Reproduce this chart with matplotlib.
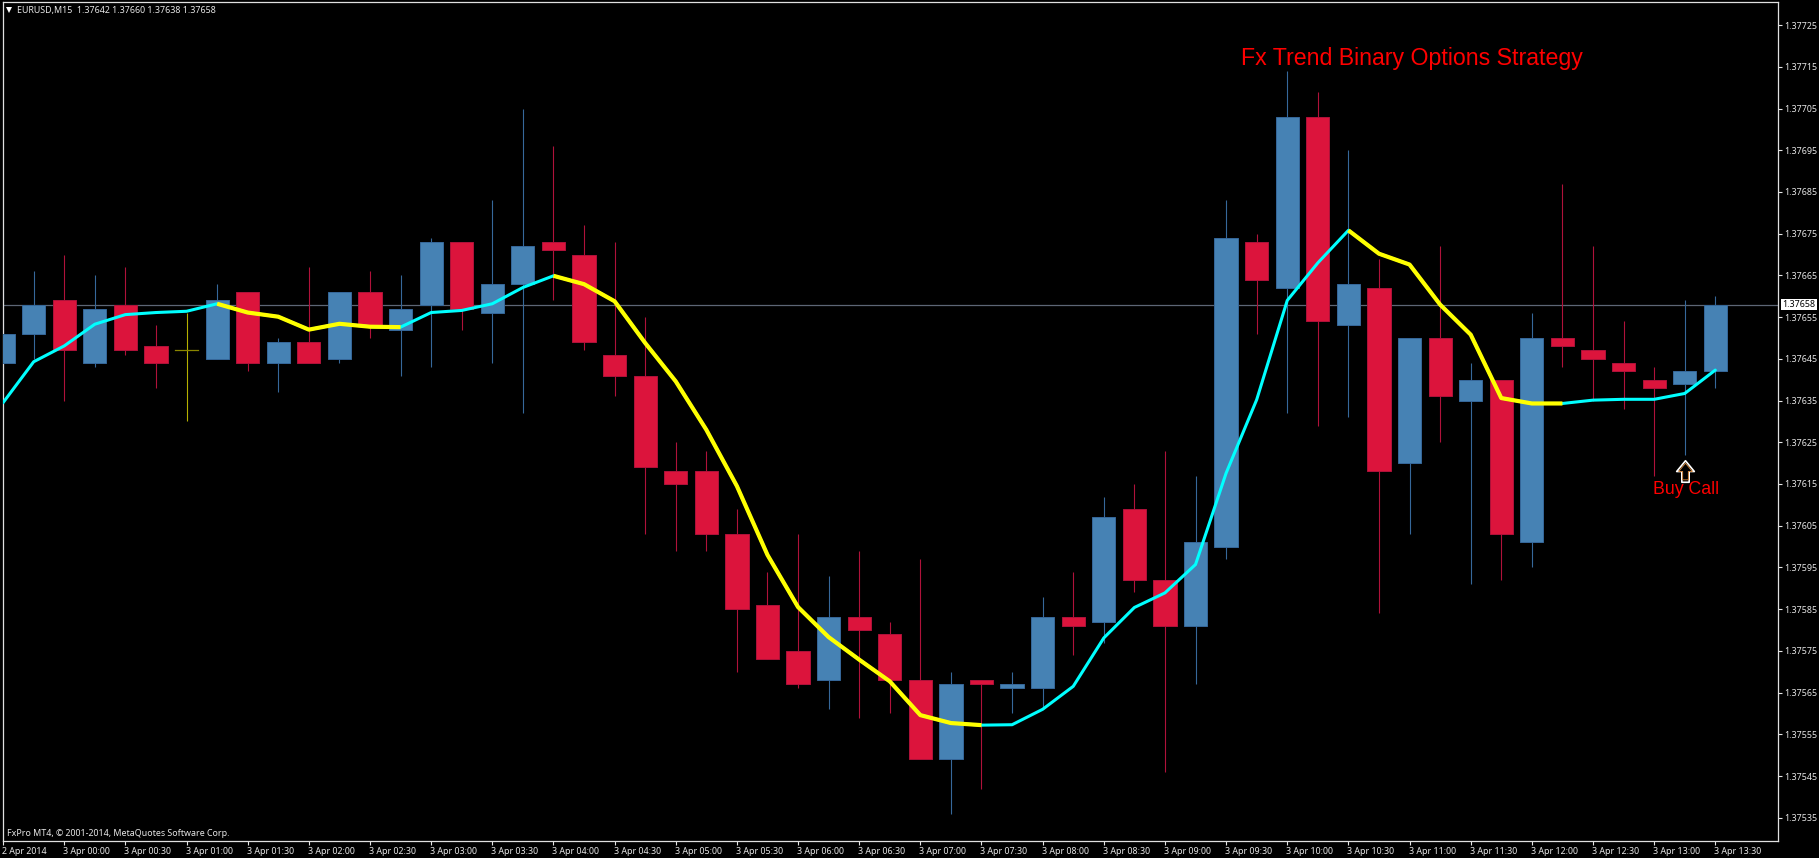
import matplotlib
matplotlib.use('Agg')
import matplotlib.pyplot as plt
from matplotlib.path import Path
from matplotlib.collections import LineCollection
from matplotlib.transforms import ScaledTranslation

# EURUSD M15 candles, 3 Apr 2014
opens = [1.37644, 1.37651, 1.37659, 1.37644, 1.37658, 1.37648, 1.37647, 1.37645, 1.37661, 1.37644,
         1.37649, 1.37645, 1.37661, 1.37652, 1.37658, 1.37673, 1.37656, 1.37663, 1.37673, 1.37670,
         1.37646, 1.37641, 1.37618, 1.37618, 1.37603, 1.37586, 1.37575, 1.37568, 1.37583, 1.37579,
         1.37568, 1.37549, 1.37568, 1.37566, 1.37566, 1.37583, 1.37582, 1.37609, 1.37592, 1.37581,
         1.37600, 1.37673, 1.37662, 1.37703, 1.37653, 1.37662, 1.37620, 1.37650, 1.37635, 1.37640,
         1.37601, 1.37650, 1.37647, 1.37644, 1.37640, 1.37639, 1.37642]
highs = [1.37664, 1.37666, 1.37670, 1.37665, 1.37667, 1.37653, 1.37656, 1.37663, 1.37661, 1.37650,
         1.37667, 1.37661, 1.37666, 1.37665, 1.37674, 1.37673, 1.37683, 1.37705, 1.37696, 1.37677,
         1.37673, 1.37655, 1.37625, 1.37623, 1.37609, 1.37594, 1.37603, 1.37593, 1.37599, 1.37582,
         1.37597, 1.37570, 1.37568, 1.37570, 1.37588, 1.37594, 1.37612, 1.37615, 1.37623, 1.37617,
         1.37683, 1.37675, 1.37714, 1.37709, 1.37695, 1.37669, 1.37650, 1.37672, 1.37644, 1.37640,
         1.37656, 1.37687, 1.37672, 1.37654, 1.37643, 1.37659, 1.37660]
lows = [1.37640, 1.37645, 1.37635, 1.37643, 1.37646, 1.37638, 1.37630, 1.37645, 1.37642, 1.37637,
        1.37644, 1.37644, 1.37650, 1.37641, 1.37643, 1.37652, 1.37644, 1.37632, 1.37659, 1.37647,
        1.37636, 1.37603, 1.37599, 1.37599, 1.37570, 1.37573, 1.37566, 1.37561, 1.37559, 1.37560,
        1.37549, 1.37536, 1.37542, 1.37560, 1.37561, 1.37574, 1.37577, 1.37589, 1.37546, 1.37567,
        1.37597, 1.37651, 1.37632, 1.37629, 1.37631, 1.37584, 1.37603, 1.37625, 1.37591, 1.37592,
        1.37595, 1.37643, 1.37635, 1.37633, 1.37617, 1.37622, 1.37638]
closes = [1.37651, 1.37658, 1.37647, 1.37657, 1.37647, 1.37644, 1.37647, 1.37659, 1.37644, 1.37649,
          1.37644, 1.37661, 1.37653, 1.37657, 1.37673, 1.37657, 1.37663, 1.37672, 1.37671, 1.37649,
          1.37641, 1.37619, 1.37615, 1.37603, 1.37585, 1.37573, 1.37567, 1.37583, 1.37580, 1.37568,
          1.37549, 1.37567, 1.37567, 1.37567, 1.37583, 1.37581, 1.37607, 1.37592, 1.37581, 1.37601,
          1.37674, 1.37664, 1.37703, 1.37654, 1.37663, 1.37618, 1.37650, 1.37636, 1.37640, 1.37603,
          1.37650, 1.37648, 1.37645, 1.37642, 1.37638, 1.37642, 1.37658]

# trend line, one value per candle
trend = [1.376345, 1.376443, 1.376481, 1.376533, 1.376556, 1.376561, 1.376564, 1.376582, 1.376561, 1.376551,
         1.376520, 1.376534, 1.376527, 1.376526, 1.376561, 1.376566, 1.376582, 1.376621, 1.376649, 1.376629,
         1.376588, 1.376488, 1.376396, 1.376280, 1.376145, 1.375980, 1.375855, 1.375783, 1.375729, 1.375677,
         1.375596, 1.375577, 1.375572, 1.375573, 1.375610, 1.375665, 1.375781, 1.375854, 1.375889, 1.375957,
         1.376176, 1.376352, 1.376590, 1.376680, 1.376758, 1.376702, 1.376676, 1.376580, 1.376508, 1.376356,
         1.376343, 1.376343, 1.376351, 1.376353, 1.376353, 1.376367, 1.376423]
# stretches of the line drawn thick yellow (falling), the rest is cyan
falling = [(7, 13), (18, 32), (44, 51)]

last_price = 1.37658
y_ticks = [1.37535 + 0.0001 * i for i in range(20)]
x_labels = ['2 Apr 2014', '3 Apr 00:00', '3 Apr 00:30', '3 Apr 01:00', '3 Apr 01:30', '3 Apr 02:00',
            '3 Apr 02:30', '3 Apr 03:00', '3 Apr 03:30', '3 Apr 04:00', '3 Apr 04:30', '3 Apr 05:00',
            '3 Apr 05:30', '3 Apr 06:00', '3 Apr 06:30', '3 Apr 07:00', '3 Apr 07:30', '3 Apr 08:00',
            '3 Apr 08:30', '3 Apr 09:00', '3 Apr 09:30', '3 Apr 10:00', '3 Apr 10:30', '3 Apr 11:00',
            '3 Apr 11:30', '3 Apr 12:00', '3 Apr 12:30', '3 Apr 13:00', '3 Apr 13:30']
x_ticks = [i * 2 for i in range(len(x_labels))]

W, H = 1819, 858
BLUE, RED = '#4682B4', '#DC143C'
BLUE_EDGE, RED_EDGE = '#36689a', '#b0123a'
GREY = '#e6e6e6'
FONT = 'Noto Sans'
SMALL = 6.4

fig = plt.figure(figsize=(W / 100, H / 100), dpi=100, facecolor='black')
left, right, top, bottom = 2.7, 1778.3, 2.3, 841.0
ax = fig.add_axes([left / W, 1 - bottom / H, (right - left) / W, (bottom - top) / H], facecolor='black')

# px per candle and per price unit
bar_px = 30.575
price_px = 4.172e5
ax.set_xlim((left - 3.1) / bar_px, (right - 3.1) / bar_px)
ax.set_ylim(last_price - (bottom - 304.6) / price_px, last_price + (304.6 - top) / price_px)

ax.axhline(last_price, color='#5d6675', lw=0.9, zorder=1)

for i in range(len(opens)):
    o, h, l, c = opens[i], highs[i], lows[i], closes[i]
    if o == c:
        ax.plot([i, i], [l, h], color='#b5b000', lw=0.8, zorder=2, solid_capstyle='butt')
        ax.plot([i - 0.38, i + 0.38], [o, o], color='#8a8600', lw=0.9, zorder=2)
        continue
    face, edge = (BLUE, BLUE_EDGE) if c > o else (RED, RED_EDGE)
    ax.plot([i, i], [l, h], color=edge, lw=0.8, zorder=2, solid_capstyle='butt')
    ax.bar(i, abs(c - o), bottom=min(o, c), width=0.76, color=face, edgecolor=edge, linewidth=0.7, zorder=3)

xs = list(range(len(trend)))
points = list(zip(xs, trend))
ax.add_collection(LineCollection([points], colors='#00FFFF', linewidths=2.2, zorder=4, capstyle='round', joinstyle='round'))
for a, b in falling:
    ax.plot(xs[a:b + 1], trend[a:b + 1], color='#FFFF00', lw=3.0, zorder=5, solid_capstyle='butt')

ax.text(40.5, 1.37717, 'Fx Trend Binary Options Strategy', color='red', family='Liberation Sans',
        fontsize=16.7, ha='left', va='center', zorder=6)
ax.text(53.95, 1.376137, 'Buy Call', color='red', family='Liberation Sans', fontsize=12.8, ha='left', va='center', zorder=6)

# up arrow under candle 55
arrow = Path([(-0.41, 0), (0, 0.5), (0.41, 0), (0.17, 0), (0.17, -0.5), (-0.17, -0.5), (-0.17, 0), (-0.41, 0)], closed=True)
ax.plot([55], [1.37618], marker=arrow, ms=15.5, mfc='black', mec='white', mew=1.2, zorder=6)
ax.plot([55], [1.37618], marker=arrow, ms=12, mfc='black', mec='#d9893a', mew=0.6, zorder=7)

ax.yaxis.tick_right()
ax.set_yticks(y_ticks)
ax.set_yticklabels(['%.5f' % v for v in y_ticks], family=FONT, fontsize=SMALL, color=GREY)
ax.set_xticks(x_ticks)
ax.set_xticklabels(x_labels, family=FONT, fontsize=SMALL, color=GREY, ha='left')
ax.tick_params(axis='y', length=3, width=0.8, color=GREY, pad=1.5)
ax.tick_params(axis='x', length=3, width=0.8, color=GREY, pad=1.5)
# labels sit a pixel left of their tick
for lbl in ax.get_xticklabels():
    lbl.set_transform(lbl.get_transform() + ScaledTranslation(-1 / 100, 0, fig.dpi_scale_trans))
for s in ax.spines.values():
    s.set_color('#e0e0e0')
    s.set_linewidth(0.9)

# current price tag on the axis
ax.annotate('%.5f' % last_price, xy=(1, last_price), xycoords=('axes fraction', 'data'), xytext=(3, 0),
            textcoords='offset points', color='black', family=FONT, fontsize=SMALL, va='center', ha='left',
            annotation_clip=False, bbox=dict(boxstyle='square,pad=0.15', fc='white', ec='none'), zorder=10)

fig.text(17 / W, 1 - 10 / H, 'EURUSD,M15  1.37642 1.37660 1.37638 1.37658', color=GREY, family=FONT, fontsize=SMALL, va='center')
fig.text(7 / W, 1 - 834 / H, 'FxPro MT4, \u00a9 2001-2014, MetaQuotes Software Corp.', color=GREY, family=FONT, fontsize=SMALL, va='center')
ax.plot([0.0035], [0.9908], marker='v', ms=5, color='white', mew=0, transform=ax.transAxes, clip_on=False)

fig.savefig('out.png', dpi=100, facecolor='black')
